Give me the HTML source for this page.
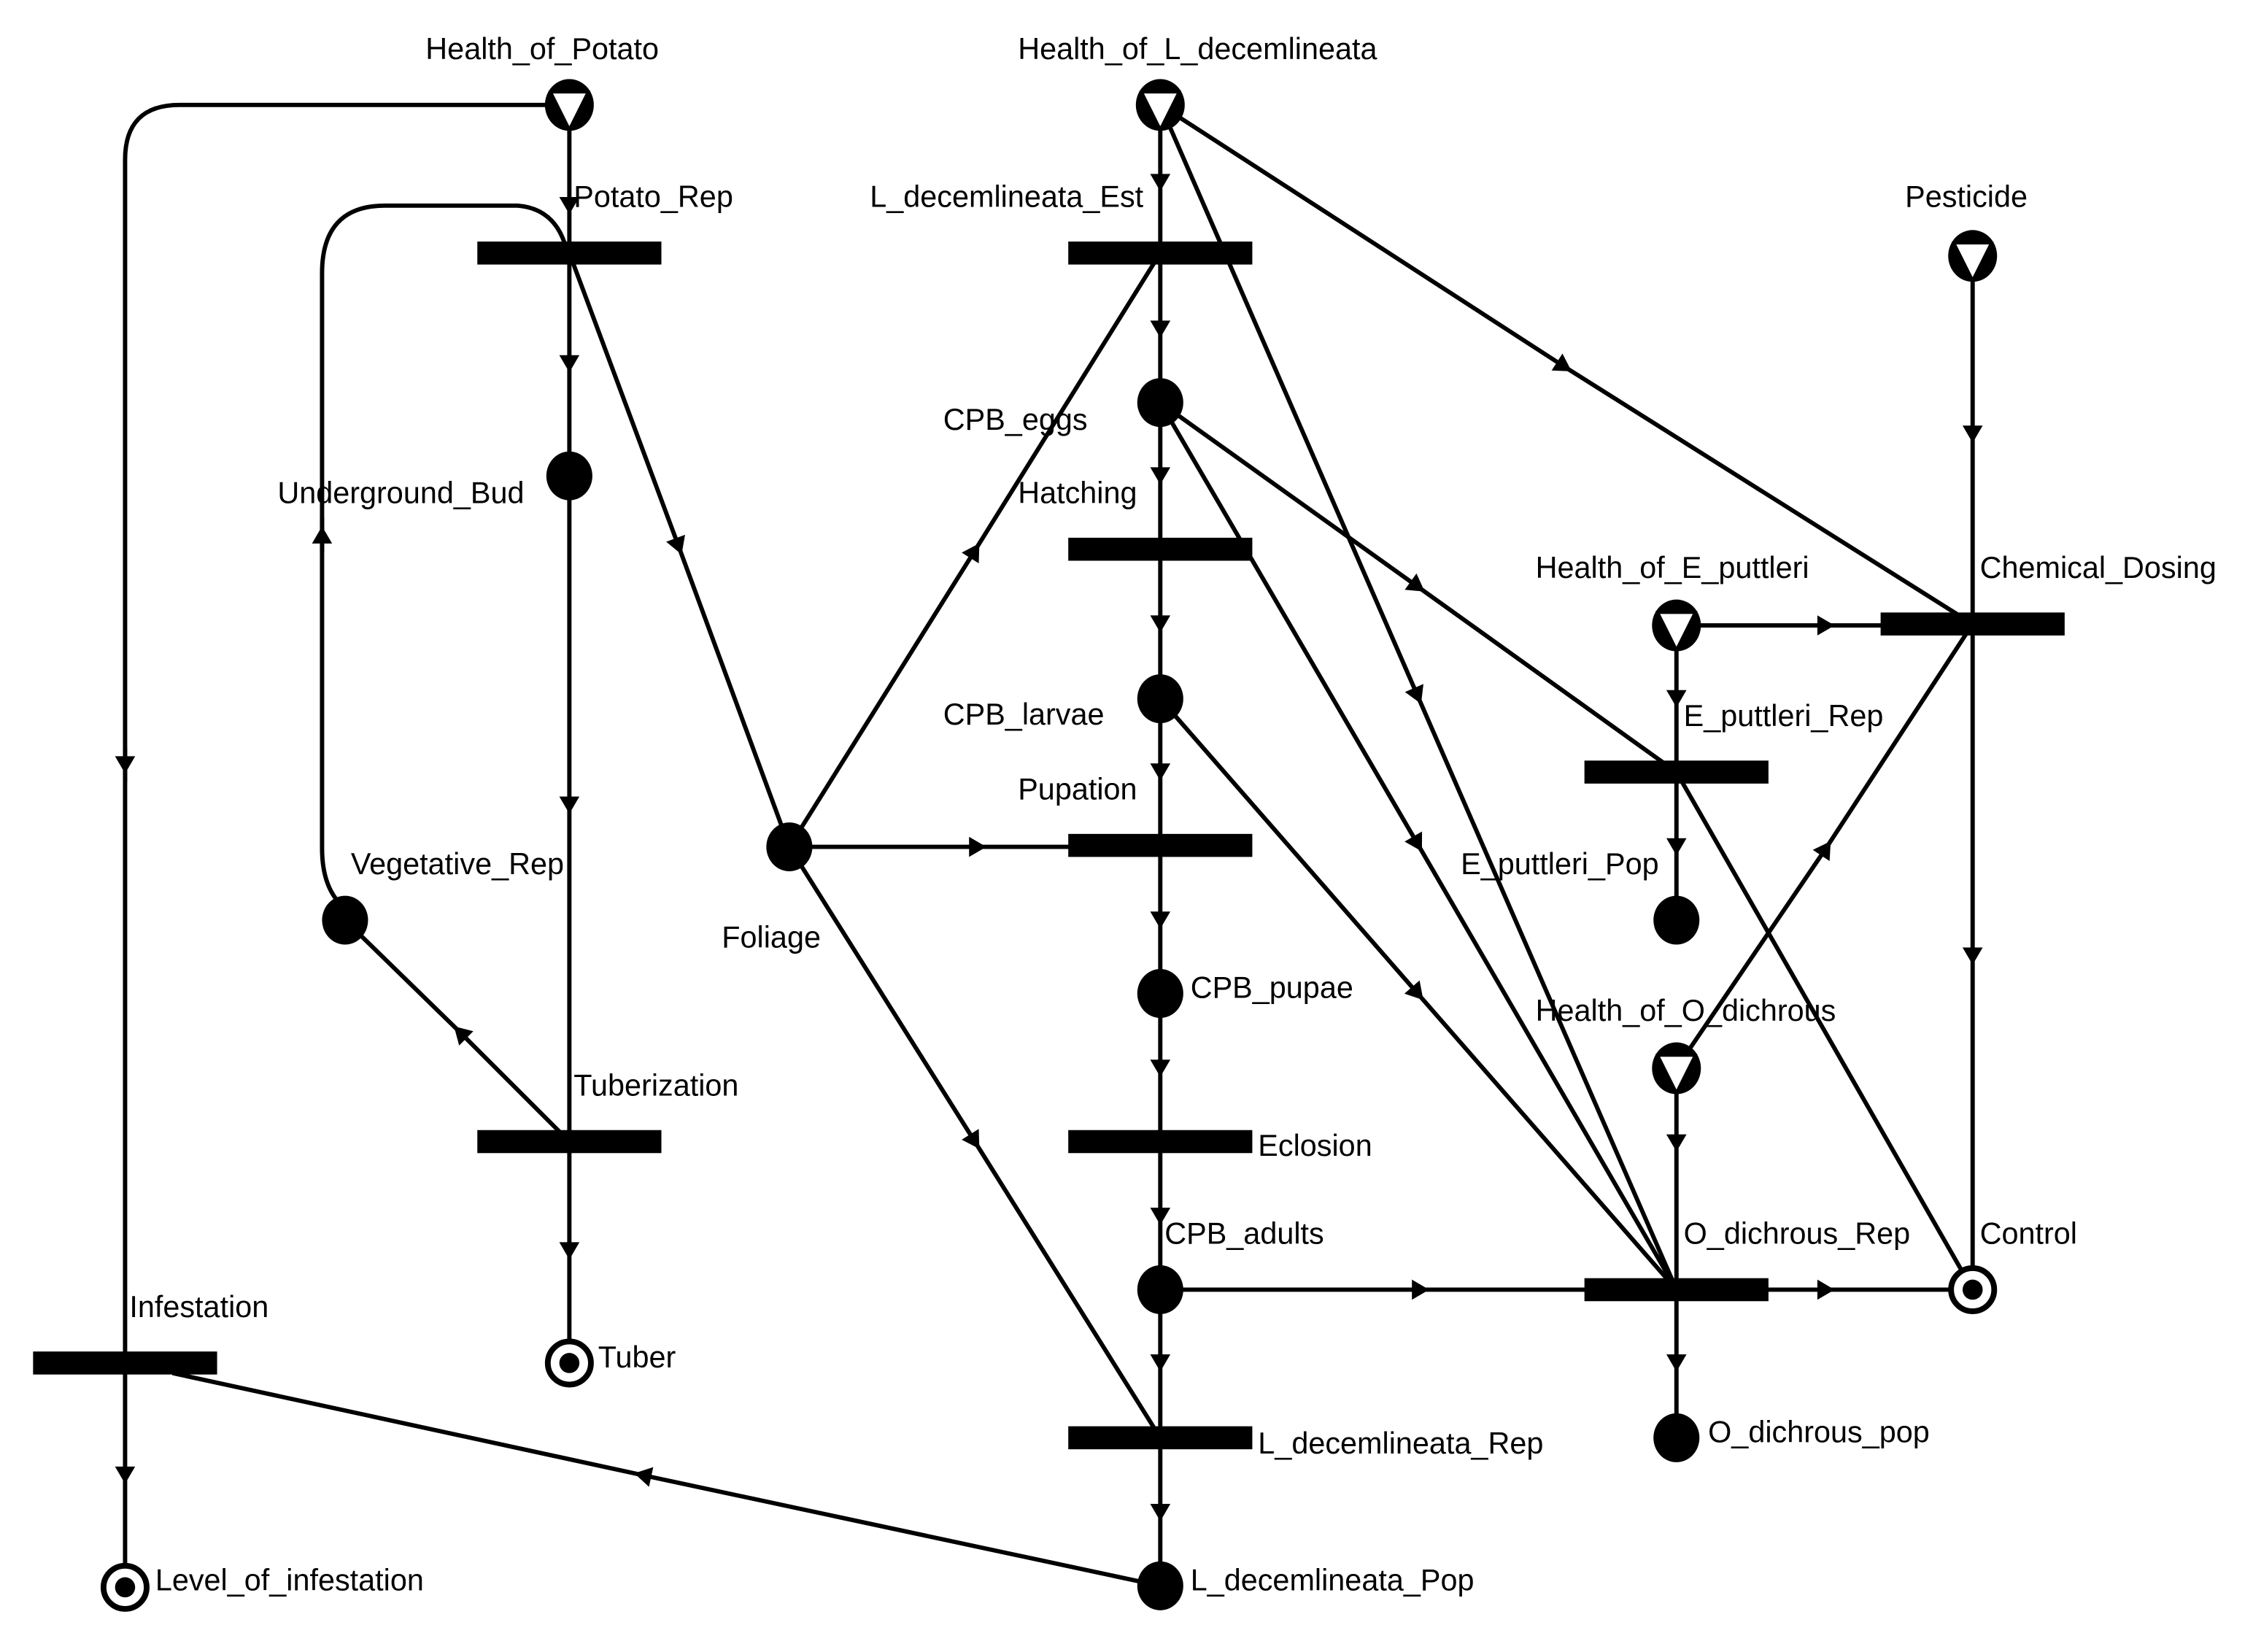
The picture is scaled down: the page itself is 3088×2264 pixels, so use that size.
<!DOCTYPE html>
<html><head><meta charset="utf-8"><style>
html,body{margin:0;padding:0;background:#fff;}
svg{display:block;}
text{font-family:"Liberation Sans",sans-serif;font-size:21px;fill:#000;}
</style></head><body>
<svg width="3088" height="2264" viewBox="0 0 1567 1149" preserveAspectRatio="none" xmlns="http://www.w3.org/2000/svg">
<defs>
<marker id="a" viewBox="0 0 14 14" refX="7" refY="7" markerWidth="14" markerHeight="14" markerUnits="userSpaceOnUse" orient="auto">
<path d="M1,0 L13,7 L1,14 Z" fill="#000"/>
</marker>
</defs>
<g stroke="#000" stroke-width="3" fill="none">
<path d="M380,73 L125,73 Q87,73 87,111 L87,948"/>
<path d="M236,628 Q224,615 224,590 L224,190 Q224,143 268,143 L360,143 Q385,145 393,170"/>
</g>
<g stroke="#000" stroke-width="3" fill="none" marker-mid="url(#a)">
<path d="M87,520 L87,532 L87,544"/>
<path d="M224,384 L224,372 L224,360"/>
<path d="M396,73 L396,143 L396,176"/>
<path d="M396,176 L396,253 L396,331"/>
<path d="M396,331 L396,560 L396,794"/>
<path d="M396,794 L396,870 L396,948"/>
<path d="M396,794 L320,718 L240,640"/>
<path d="M396,176 L472,380 L549,589"/>
<path d="M87,948 L87,1026 L87,1104"/>
<path d="M807,1103 L447,1026 L120,955"/>
<path d="M549,589 L678,383 L807,176"/>
<path d="M549,589 L680,589 L807,589"/>
<path d="M549,589 L678,794 L807,1000"/>
<path d="M807,73 L807,127 L807,176"/>
<path d="M807,176 L807,229 L807,280"/>
<path d="M807,280 L807,331 L807,382"/>
<path d="M807,382 L807,434 L807,486"/>
<path d="M807,486 L807,537 L807,588"/>
<path d="M807,588 L807,640 L807,691"/>
<path d="M807,691 L807,743 L807,794"/>
<path d="M807,794 L807,846 L807,897"/>
<path d="M807,897 L807,948 L807,1000"/>
<path d="M807,1000 L807,1052 L807,1103"/>
<path d="M807,73 L1088,255 L1372,434"/>
<path d="M807,73 L986,484 L1166,897"/>
<path d="M807,280 L986,408 L1166,537"/>
<path d="M807,280 L986,587 L1166,897"/>
<path d="M807,486 L986,691 L1166,897"/>
<path d="M807,897 L988,897 L1166,897"/>
<path d="M1166,897 L1270,897 L1372,897"/>
<path d="M1372,178 L1372,302 L1372,434"/>
<path d="M1372,434 L1372,665 L1372,897"/>
<path d="M1166,435 L1270,435 L1372,435"/>
<path d="M1166,435 L1166,486 L1166,537"/>
<path d="M1166,537 L1166,589 L1166,640"/>
<path d="M1166,743 L1270,590 L1372,434"/>
<path d="M1166,743 L1166,795 L1166,897"/>
<path d="M1166,897 L1166,948 L1166,1000"/>
</g>
<path d="M1166,537 L1372,897" stroke="#000" stroke-width="3" fill="none"/>
<g fill="#000">
<rect x="332" y="168" width="128" height="16"/>
<rect x="743" y="168" width="128" height="16"/>
<rect x="743" y="374" width="128" height="16"/>
<rect x="743" y="580" width="128" height="16"/>
<rect x="743" y="786" width="128" height="16"/>
<rect x="743" y="992" width="128" height="16"/>
<rect x="332" y="786" width="128" height="16"/>
<rect x="23" y="940" width="128" height="16"/>
<rect x="1308" y="426" width="128" height="16"/>
<rect x="1102" y="529" width="128" height="16"/>
<rect x="1102" y="889" width="128" height="16"/>
</g>
<g fill="#000">
<ellipse cx="396" cy="331" rx="16" ry="17"/>
<ellipse cx="240" cy="640" rx="16" ry="17"/>
<ellipse cx="549" cy="589" rx="16" ry="17"/>
<ellipse cx="807" cy="280" rx="16" ry="17"/>
<ellipse cx="807" cy="486" rx="16" ry="17"/>
<ellipse cx="807" cy="691" rx="16" ry="17"/>
<ellipse cx="807" cy="897" rx="16" ry="17"/>
<ellipse cx="807" cy="1103" rx="16" ry="17"/>
<ellipse cx="1166" cy="640" rx="16" ry="17"/>
<ellipse cx="1166" cy="1000" rx="16" ry="17"/>
</g>
<g>
<g transform="translate(396,73)"><ellipse rx="17" ry="18" fill="#000"/><path d="M-13,-9 L13,-9 L0,17 Z" fill="#fff" stroke="#000" stroke-width="2"/></g>
<g transform="translate(807,73)"><ellipse rx="17" ry="18" fill="#000"/><path d="M-13,-9 L13,-9 L0,17 Z" fill="#fff" stroke="#000" stroke-width="2"/></g>
<g transform="translate(1372,178)"><ellipse rx="17" ry="18" fill="#000"/><path d="M-13,-9 L13,-9 L0,17 Z" fill="#fff" stroke="#000" stroke-width="2"/></g>
<g transform="translate(1166,435)"><ellipse rx="17" ry="18" fill="#000"/><path d="M-13,-9 L13,-9 L0,17 Z" fill="#fff" stroke="#000" stroke-width="2"/></g>
<g transform="translate(1166,743)"><ellipse rx="17" ry="18" fill="#000"/><path d="M-13,-9 L13,-9 L0,17 Z" fill="#fff" stroke="#000" stroke-width="2"/></g>
</g>
<g>
<circle cx="396" cy="948" r="15" fill="#fff" stroke="#000" stroke-width="4"/><circle cx="396" cy="948" r="7" fill="#000"/>
<circle cx="87" cy="1104" r="15" fill="#fff" stroke="#000" stroke-width="4"/><circle cx="87" cy="1104" r="7" fill="#000"/>
<circle cx="1372" cy="897" r="15" fill="#fff" stroke="#000" stroke-width="4"/><circle cx="1372" cy="897" r="7" fill="#000"/>
</g>
<text x="296" y="41">Health_of_Potato</text>
<text x="708" y="41">Health_of_L_decemlineata</text>
<text x="1325" y="144">Pesticide</text>
<text x="399" y="144">Potato_Rep</text>
<text x="605" y="144">L_decemlineata_Est</text>
<text x="656" y="299">CPB_eggs</text>
<text x="193" y="350">Underground_Bud</text>
<text x="708" y="350">Hatching</text>
<text x="1068" y="402">Health_of_E_puttleri</text>
<text x="1377" y="402">Chemical_Dosing</text>
<text x="656" y="504">CPB_larvae</text>
<text x="1171" y="505">E_puttleri_Rep</text>
<text x="708" y="556">Pupation</text>
<text x="244" y="608">Vegetative_Rep</text>
<text x="1016" y="608">E_puttleri_Pop</text>
<text x="502" y="659">Foliage</text>
<text x="828" y="694">CPB_pupae</text>
<text x="1068" y="710">Health_of_O_dichrous</text>
<text x="399" y="762">Tuberization</text>
<text x="875" y="804">Eclosion</text>
<text x="810" y="865">CPB_adults</text>
<text x="1171" y="865">O_dichrous_Rep</text>
<text x="1377" y="865">Control</text>
<text x="90" y="916">Infestation</text>
<text x="416" y="951">Tuber</text>
<text x="1188" y="1003">O_dichrous_pop</text>
<text x="875" y="1011">L_decemlineata_Rep</text>
<text x="108" y="1106">Level_of_infestation</text>
<text x="828" y="1106">L_decemlineata_Pop</text>
</svg>
</body></html>
